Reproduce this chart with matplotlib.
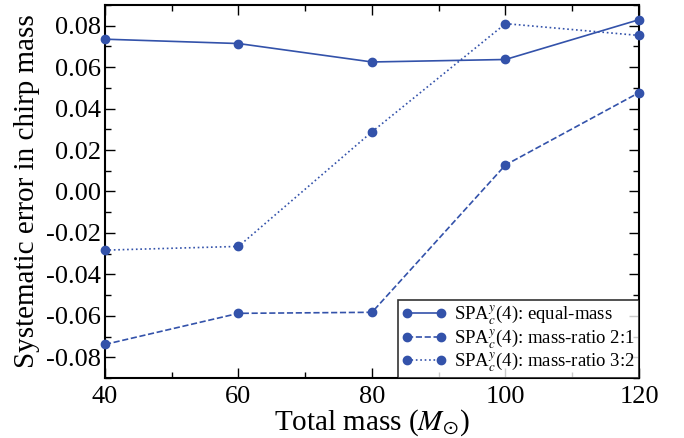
import matplotlib
matplotlib.use("Agg")
import matplotlib.pyplot as plt
from matplotlib.ticker import MultipleLocator

plt.rcParams['font.family'] = ['Liberation Serif', 'DejaVu Serif']
plt.rcParams['mathtext.fontset'] = 'stix'

total_mass = [40, 60, 80, 100, 120]
equal_mass = [0.0735, 0.0714, 0.0625, 0.0637, 0.0829]
ratio_2_1 = [-0.0738, -0.0588, -0.0583, 0.0128, 0.0477]
ratio_3_2 = [-0.0283, -0.0265, 0.0288, 0.0810, 0.0753]

series_labels = [r"SPA$_c^y$(4): equal-mass",
                 r"SPA$_c^y$(4): mass-ratio 2:1",
                 r"SPA$_c^y$(4): mass-ratio 3:2"]

color = '#3352aa'

fig = plt.figure(figsize=(6.84, 4.38), dpi=100)
ax = fig.add_axes([0.1535, 0.137, 0.7807, 0.8516])

ax.plot(total_mass, equal_mass, '-', marker='o', color=color, ms=6, lw=1.2,
        label=series_labels[0], clip_on=False, zorder=3)
ax.plot(total_mass, ratio_2_1, '--', marker='o', color=color, ms=6, lw=1.2,
        label=series_labels[1], clip_on=False, zorder=3)
ax.plot(total_mass, ratio_3_2, ':', marker='o', color=color, ms=6, lw=1.2,
        label=series_labels[2], clip_on=False, zorder=3)

ax.set_xlim(40, 120)
ax.set_ylim(-0.09, 0.09)
ax.xaxis.set_major_locator(MultipleLocator(20))
ax.xaxis.set_minor_locator(MultipleLocator(10))
ax.yaxis.set_major_locator(MultipleLocator(0.02))
ax.yaxis.set_minor_locator(MultipleLocator(0.01))
ax.yaxis.set_major_formatter(plt.FuncFormatter(lambda v, p: f"{v:.2f}"))

ax.tick_params(which='both', direction='in', top=True, right=True, labelsize=19)
ax.tick_params(which='major', length=7.5, width=1)
ax.tick_params(which='minor', length=4, width=1)
ax.tick_params(axis='x', pad=6)
ax.tick_params(axis='y', pad=3)
for s in ax.spines.values():
    s.set_linewidth(1.5)

ax.set_xlabel(r"Total mass ($M_{\odot}$)", fontsize=21, labelpad=-1)
ax.set_ylabel("Systematic error in chirp mass", fontsize=21, labelpad=4)

leg = ax.legend(loc='lower right', fontsize=13.5, frameon=True, fancybox=False,
                borderaxespad=0, handlelength=2.4, handletextpad=0.4,
                borderpad=0.2, labelspacing=0.0, numpoints=2)
leg.get_frame().set_edgecolor('black')
leg.get_frame().set_linewidth(1.2)

fig.savefig('out.png', dpi=100)
